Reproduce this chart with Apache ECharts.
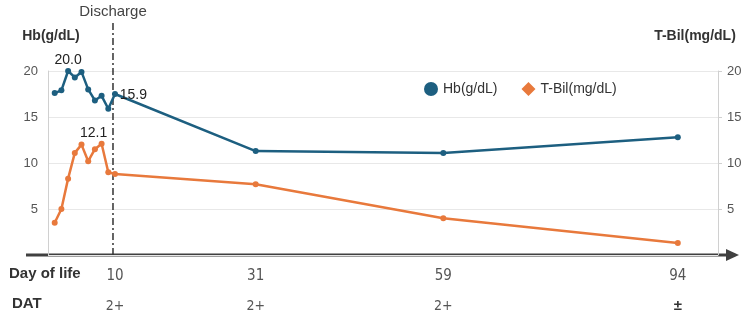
<!DOCTYPE html>
<html>
<head>
<meta charset="utf-8">
<title>Hb / T-Bil</title>
<script src="https://cdn.jsdelivr.net/npm/echarts@6/dist/echarts.min.js"></script>
<style>
	html, body { margin: 0; padding: 0; background: #fff; }
	#chart { width: 750px; height: 321px; }
</style>
</head>
<body>
<div id="chart"></div>
<script>
// 数据
var days = [1, 2, 3, 4, 5, 6, 7, 8, 9, 10, 31, 59, 94];
var hbValues = [17.6, 17.9, 20.0, 19.3, 19.9, 18.0, 16.8, 17.3, 15.9, 17.5, 11.3, 11.1, 12.8];
var tbilValues = [3.5, 5.0, 8.3, 11.1, 12.0, 10.2, 11.5, 12.1, 9.0, 8.8, 7.7, 4.0, 1.3];
// x轴 刻度 和 DAT
var dayTicks = [10, 31, 59, 94];
var datLabels = ['2+', '2+', '2+', '±'];
// 出院
var dischargeDay = 9.7;
var dischargeTop = 25.3;

var font = '"Liberation Sans", Arial, sans-serif';
var narrow = '"Liberation Sans Narrow", "DejaVu Sans Condensed", sans-serif';

// 需要显示数值的点
var hbLabels = {
	2: { position: 'top', distance: 1 },
	8: { position: 'top', distance: 4, offset: [25, 0] }
};
var tbilLabels = {
	7: { position: 'top', distance: 1, offset: [-8, 0] }
};

function buildData(vals, labels) {
	var arr = [];
	for (var i = 0; i < vals.length; i++) {
		var item = { value: [days[i], vals[i]] };
		if (labels[i]) {
			item.label = {
				show: true,
				position: labels[i].position,
				distance: labels[i].distance,
				offset: labels[i].offset || [0, 0],
				formatter: vals[i].toFixed(1),
				fontSize: 14,
				color: '#222',
				fontFamily: font
			};
		}
		arr.push(item);
	}
	return arr;
}

var chart = echarts.init(document.getElementById('chart'));

var option = {
	animation: false,
	textStyle: { fontFamily: font },
	grid: { left: 48, right: 32, top: 71, bottom: 66 },
	legend: {
		left: 419,
		top: 77,
		itemWidth: 14,
		itemHeight: 14,
		itemGap: 24,
		textStyle: { fontSize: 14, color: '#333', fontFamily: font },
		data: [
			{ name: 'Hb(g/dL)', icon: 'circle' },
			{ name: 'T-Bil(mg/dL)', icon: 'diamond' }
		]
	},
	xAxis: {
		type: 'value',
		min: 0,
		max: 100,
		axisLine: { show: false },
		axisTick: { show: false },
		splitLine: { show: false },
		axisLabel: {
			customValues: dayTicks,
			margin: 6,
			formatter: function (v) {
				var idx = dayTicks.indexOf(v);
				var dat = datLabels[idx];
				return '{d|' + v + '}\n{' + (dat === '±' ? 'pm' : 't') + '|' + dat + '}';
			},
			rich: {
				d: { fontSize: 15, color: '#555', fontFamily: narrow, lineHeight: 30 },
				t: { fontSize: 14, color: '#555', fontFamily: narrow, lineHeight: 30 },
				pm: { fontSize: 15, color: '#333', fontWeight: 'bold', fontFamily: font, lineHeight: 30 }
			}
		}
	},
	yAxis: [{
		type: 'value',
		min: 0,
		max: 20,
		interval: 5,
		name: 'Hb(g/dL)',
		nameLocation: 'end',
		nameGap: 28,
		nameTextStyle: { fontSize: 14, fontWeight: 'bold', color: '#333', fontFamily: font, padding: [0, 0, 0, 6] },
		axisLine: { show: true, lineStyle: { color: '#d0d0d0', width: 1 } },
		axisTick: { show: false },
		axisLabel: { showMinLabel: false, fontSize: 13, color: '#555', margin: 10 },
		splitLine: { lineStyle: { color: '#e8e8e8' } }
	}, {
		type: 'value',
		position: 'right',
		min: 0,
		max: 20,
		interval: 5,
		name: 'T-Bil(mg/dL)',
		nameLocation: 'end',
		nameGap: 28,
		nameTextStyle: { fontSize: 14, fontWeight: 'bold', color: '#333', fontFamily: font, padding: [0, 46, 0, 0] },
		axisLine: { show: true, lineStyle: { color: '#d0d0d0', width: 1 } },
		axisTick: { show: true, length: 4, lineStyle: { color: '#d0d0d0' } },
		axisLabel: { showMinLabel: false, fontSize: 13, color: '#555', margin: 9 },
		splitLine: { show: false }
	}],
	graphic: [
		// x轴 箭头
		{ type: 'line', shape: { x1: 26, y1: 255, x2: 728, y2: 255 }, style: { stroke: '#404040', lineWidth: 3 } },
		{ type: 'polygon', shape: { points: [[726, 249], [739, 255], [726, 261]] }, style: { fill: '#404040' } },
		{ type: 'text', left: 9, top: 266, style: { text: 'Day of life', font: 'bold 15px ' + font, fill: '#333' } },
		{ type: 'text', left: 12, top: 296, style: { text: 'DAT', font: 'bold 15px ' + font, fill: '#333' } }
	],
	series: [{
		name: 'Hb(g/dL)',
		type: 'line',
		yAxisIndex: 0,
		data: buildData(hbValues, hbLabels),
		symbol: 'circle',
		symbolSize: 6,
		itemStyle: { color: '#1d5f80' },
		lineStyle: { color: '#1d5f80', width: 2.5 },
		z: 3
	}, {
		name: 'T-Bil(mg/dL)',
		type: 'line',
		yAxisIndex: 1,
		data: buildData(tbilValues, tbilLabels),
		symbol: 'circle',
		symbolSize: 6,
		itemStyle: { color: '#e8793c' },
		lineStyle: { color: '#e8793c', width: 2.5 },
		z: 3
	}, {
		// 出院 竖线
		name: 'Discharge',
		type: 'line',
		yAxisIndex: 0,
		clip: false,
		silent: true,
		symbol: 'circle',
		symbolSize: 0,
		data: [
			[dischargeDay, 0],
			{
				value: [dischargeDay, dischargeTop],
				label: { show: true, position: 'top', distance: 3, formatter: 'Discharge', fontSize: 15, color: '#444', fontFamily: font }
			}
		],
		lineStyle: { color: '#333', width: 1.5, type: [7, 3, 2, 3] },
		itemStyle: { color: '#333' },
		z: 2
	}]
};

chart.setOption(option);
</script>
</body>
</html>
